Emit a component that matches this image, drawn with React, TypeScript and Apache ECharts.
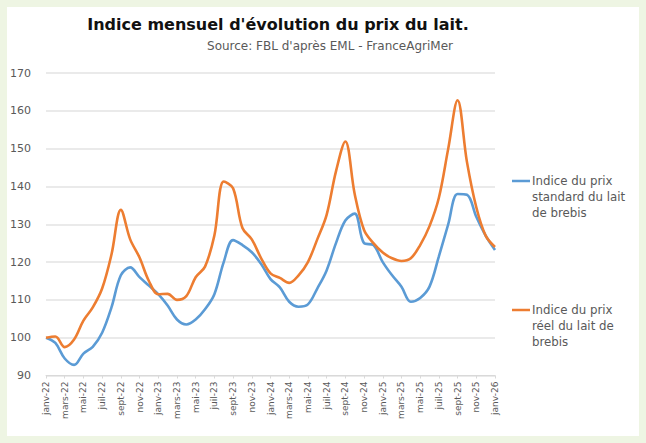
import React, { useEffect, useRef } from "react";
import * as echarts from "echarts";

const monthNames = ["janv", "févr", "mars", "avr", "mai", "juin", "juil", "août", "sept", "oct", "nov", "déc"];
const years = ["22", "23", "24", "25", "26"];
const categories: string[] = [];
for (const y of years) {
  for (const m of monthNames) {
    categories.push(m + "-" + y);
    if (y === "26") break;
  }
}

const standardIndex = [
  100, 98.6, 94.5, 92.8, 95.8, 97.6, 101.3, 108, 116.5, 118.6, 116, 113.8,
  111.5, 108.5, 104.8, 103.5, 104.8, 107.5, 111.5, 120, 125.8, 124.5, 122.6, 119.5,
  115.5, 113.3, 109.5, 108.2, 108.8, 113, 117.8, 125, 131, 132.8, 125, 124.5,
  120, 116.5, 113.5, 109.5, 110.5, 113.5, 121.5, 130, 138, 137.8, 132, 127,
  123.2,
];

const realIndex = [
  100, 100.3, 97.5, 99.5, 104.5, 108, 113, 122, 133.8, 126, 121.2, 115,
  111.5, 111.6, 110, 111, 116, 118.8, 127, 141.3, 139.5, 129, 126, 121,
  117, 115.8, 114.5, 116.5, 120, 126, 132.5, 144, 151.9, 138, 128.5, 125,
  122.5, 121, 120.3, 121, 124.5, 129.5, 137, 150, 162.8, 146.5, 134.5, 127,
  124,
];

const seriesNames = ["Indice du prix standard du lait de brebis", "Indice du prix réel du lait de brebis"];
const legendLines = [
  ["Indice du prix", "standard du lait", "de brebis"],
  ["Indice du prix", "réel du lait de", "brebis"],
];
const colors = ["#5b9bd5", "#ed7d31"];

const titleText = "Indice mensuel d'évolution du prix du lait.";
const subtitleText = "Source: FBL d'après EML - FranceAgriMer";

const FONT = "'DejaVu Sans', sans-serif";

export default function App() {
  const ref = useRef<HTMLDivElement>(null);
  useEffect(() => {
    if (!ref.current) return;
    const chart = echarts.init(ref.current, undefined, { renderer: "svg" });
    const legendY = [174, 303];
    const legendGraphics: any[] = [];
    legendLines.forEach((lines, k) => {
      legendGraphics.push({
        type: "line",
        shape: { x1: 505, y1: legendY[k], x2: 523, y2: legendY[k] },
        style: { stroke: colors[k], lineWidth: 2.5 },
      });
      legendGraphics.push({
        type: "text",
        x: 525,
        y: legendY[k] - 8,
        style: {
          text: lines.join("\n"),
          fill: "#595959",
          font: "11.8px " + FONT,
          lineHeight: 16,
          align: "left",
          verticalAlign: "top",
        },
      });
    });
    chart.setOption({
      animation: false,
      backgroundColor: "#ffffff",
      textStyle: { fontFamily: FONT },
      title: [
        {
          text: titleText,
          left: 266,
          top: 4,
          textAlign: "center",
          textStyle: { fontSize: 16, fontWeight: "bold", color: "#111111", fontFamily: FONT },
        },
        {
          text: subtitleText,
          left: 318,
          top: 28,
          textAlign: "center",
          textStyle: { fontSize: 12, fontWeight: "normal", color: "#595959", fontFamily: FONT },
        },
      ],
      grid: { left: 39, top: 66, right: 144, bottom: 60.5, containLabel: false },
      xAxis: {
        type: "category",
        data: categories,
        boundaryGap: false,
        axisLine: { lineStyle: { color: "#d9d9d9", width: 1 } },
        axisTick: { show: true, interval: 1, length: 3, lineStyle: { color: "#d9d9d9" } },
        axisLabel: {
          interval: 1,
          rotate: 90,
          fontSize: 9,
          color: "#595959",
          margin: 6,
          fontFamily: FONT,
        },
        splitLine: { show: false },
      },
      yAxis: {
        type: "value",
        min: 90,
        max: 170,
        interval: 10,
        axisLine: { show: false },
        axisTick: { show: false },
        axisLabel: { fontSize: 11, color: "#595959", margin: 15, fontFamily: FONT },
        splitLine: { lineStyle: { color: "#e3e3e3", width: 1.5 } },
      },
      series: [
        {
          name: seriesNames[0],
          type: "line",
          data: standardIndex,
          smooth: 0.35,
          showSymbol: false,
          lineStyle: { color: colors[0], width: 2.6 },
          itemStyle: { color: colors[0] },
        },
        {
          name: seriesNames[1],
          type: "line",
          data: realIndex,
          smooth: 0.35,
          showSymbol: false,
          lineStyle: { color: colors[1], width: 2.6 },
          itemStyle: { color: colors[1] },
        },
      ],
      graphic: legendGraphics,
    });
    return () => chart.dispose();
  }, []);
  return (
    <div style={{ position: "fixed", left: 0, top: 0, width: 646, height: 443, background: "#eef5e3" }}>
      <div
        ref={ref}
        style={{ position: "absolute", left: 7, top: 7, width: 632, height: 429, background: "#ffffff" }}
      />
    </div>
  );
}
